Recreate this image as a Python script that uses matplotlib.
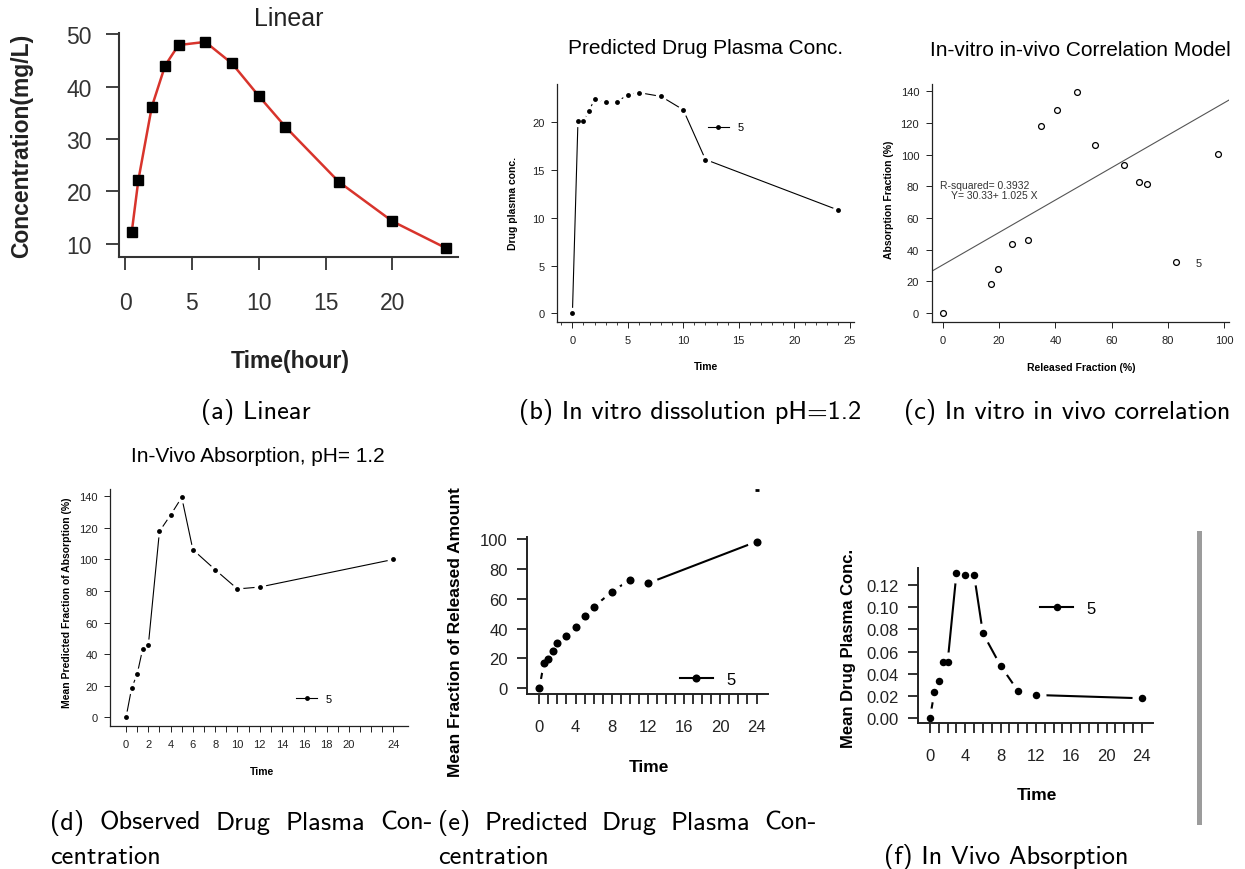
import numpy as np
import matplotlib
matplotlib.use('Agg')
import matplotlib.pyplot as plt
from matplotlib.lines import Line2D
from matplotlib.patches import Rectangle
from matplotlib.ticker import FixedLocator, FuncFormatter, MultipleLocator

plt.rcParams['font.family'] = ['Liberation Sans', 'DejaVu Sans']

# ---- data ----
# (a) linear model
lin_time = [0.5, 1, 2, 3, 4, 6, 8, 10, 12, 16, 20, 24]
lin_conc = [12.2, 22.2, 36.1, 44.0, 47.9, 48.5, 44.4, 38.2, 32.3, 21.8, 14.3, 9.2]

# sampling times shared by (b), (d), (e), (f)
times = [0, 0.5, 1, 1.5, 2, 3, 4, 5, 6, 8, 10, 12, 24]

# (b) predicted drug plasma conc.
pred_plasma = [0, 20.1, 20.1, 21.2, 22.4, 22.1, 22.1, 22.9, 23.1, 22.7, 21.3, 16.1, 10.8]

# (c) in-vitro in-vivo correlation
corr_released = [0, 17.1, 19.5, 24.7, 30.4, 34.9, 40.5, 47.8, 53.9, 64.5, 69.8, 72.4, 82.9, 97.7]
corr_absorbed = [0, 18.5, 27.9, 43.7, 45.8, 117.9, 128.2, 139.3, 106.1, 93.5, 82.6, 81.5, 31.9, 100.2]
fit_intercept = 30.33
fit_slope = 1.025
r_squared = 0.3932

# (d) in-vivo absorption
absorption = [0, 18.4, 27.4, 43.5, 45.6, 117.8, 128.1, 139.3, 106.2, 93.5, 81.3, 82.5, 100.0]

# (e) released amount
released = [0, 16.9, 19.6, 24.8, 30.5, 35.2, 41.1, 48.4, 54.5, 64.5, 72.7, 70.3, 98.2]
stray_time, stray_val = [24], [133]

# (f) mean drug plasma conc.
mean_plasma = [0, 0.0230, 0.0333, 0.0505, 0.0505, 0.1309, 0.1294, 0.1294, 0.0765,
               0.0471, 0.0239, 0.0206, 0.0176]

W, H = 1245, 870
fig = plt.figure(figsize=(W / 100, H / 100), dpi=100)


def px_axes(x0, y0, x1, y1):
    ax = fig.add_axes([x0 / W, 1 - y1 / H, (x1 - x0) / W, (y1 - y0) / H])
    ax.patch.set_visible(False)
    return ax


def ftext(x, y, s, **kw):
    return fig.text(x / W, 1 - y / H, s, **kw)


def r_style(ax, lw, tlen, tw, size, pad, color='#222222'):
    for s in ['top', 'right']:
        ax.spines[s].set_visible(False)
    for s in ['left', 'bottom']:
        ax.spines[s].set_linewidth(lw)
        ax.spines[s].set_color(color)
        ax.spines[s].set_zorder(5)
    ax.tick_params(direction='out', length=tlen, width=tw, colors=color,
                   labelsize=size, pad=pad)


def type_b(ax, x, y, dot, halo, lw):
    # R's type="b": points with the line broken around them
    ax.plot(x, y, color='k', lw=lw, zorder=2)
    ax.plot(x, y, 'o', ms=halo, color='white', mew=0, zorder=2.2)
    ax.plot(x, y, 'o', ms=dot, color='k', mew=0, zorder=3)
    return Line2D([], [], color='k', lw=lw, marker='o', ms=dot, mfc='k', mec='k', mew=0)


def legend5(ax, h, x, y, size, hl, tp):
    ax.legend([h], ['5'], loc='center left', bbox_to_anchor=(x, y),
              bbox_transform=ax.transData, frameon=False, borderpad=0,
              borderaxespad=0, handlelength=hl, handletextpad=tp,
              fontsize=size, numpoints=1)


# ---------------- (a) Linear ----------------
ax = px_axes(119, 34, 458, 258)
ax.plot(lin_time, lin_conc, color='#d8342c', lw=1.8, zorder=2)
ax.plot(lin_time, lin_conc, 's', color='k', ms=6.5, zorder=3)
ax.set_xlim(-0.45, 24.9)
ax.set_ylim(7.5, 50.2)
ax.set_xticks([0, 5, 10, 15, 20])
ax.set_yticks([10, 20, 30, 40, 50])
r_style(ax, 1.5, 9.5, 1.3, 16.5, 15, color='#333333')
ax.tick_params(axis='y', pad=10)
ftext(289, 19, 'Linear', fontsize=18, ha='center', va='center', color='#222222')
ftext(22, 146, 'Concentration(mg/L)', fontsize=16.5, fontweight='bold',
      rotation=90, ha='center', va='center', color='#222222')
ftext(290, 362, 'Time(hour)', fontsize=16.5, fontweight='bold',
      ha='center', va='center', color='#222222')

# ---------------- (b) Predicted drug plasma conc. ----------------
ax = px_axes(557, 85, 854, 323)
h = type_b(ax, times, pred_plasma, 3.5, 8.2, 0.8)
ax.set_xlim(-1.39, 25.4)
ax.set_ylim(-0.9, 24.0)
ax.set_xticks([0, 5, 10, 15, 20, 25])
ax.xaxis.set_minor_locator(MultipleLocator(1))
ax.set_yticks([0, 5, 10, 15, 20])
r_style(ax, 0.9, 4, 0.7, 8, 5)
ax.tick_params(axis='x', which='minor', length=2.2, width=0.6, colors='#222222')
legend5(ax, h, 12.2, 19.45, 8, 1.9, 0.8)
ftext(706, 49, 'Predicted Drug Plasma Conc.', fontsize=15, ha='center', va='center')
ftext(513, 203, 'Drug plasma conc.', fontsize=7.5, fontweight='bold',
      rotation=90, ha='center', va='center')
ftext(706, 367, 'Time', fontsize=7.5, fontweight='bold', ha='center', va='center')

# ---------------- (c) Correlation ----------------
ax = px_axes(931.7, 85, 1229, 323)
ax.plot(corr_released, corr_absorbed, 'o', ms=4.2, mfc='none', mec='k', mew=0.9)
ax.axline((0, fit_intercept), slope=fit_slope, color='#555555', lw=0.8)
ax.set_xlim(-3.9, 101.6)
ax.set_ylim(-5.7, 144.6)
ax.set_xticks([0, 20, 40, 60, 80, 100])
ax.set_yticks([0, 20, 40, 60, 80, 100, 120, 140])
r_style(ax, 0.9, 4, 0.7, 8, 5)
ax.text(-0.96, 80.9, f'R-squared= {r_squared}', fontsize=7.5, ha='left', va='center',
        color='#333333')
ax.text(2.84, 74.8, f'Y= {fit_intercept}+ {fit_slope} X', fontsize=7.5, ha='left',
        va='center', color='#333333')
ax.text(90.7, 31.7, '5', fontsize=8, ha='center', va='center', color='#222222')
ftext(1080, 50, 'In-vitro in-vivo Correlation Model', fontsize=15, ha='center',
      va='center')
ftext(889, 200, 'Absorption Fraction (%)', fontsize=7.5, fontweight='bold',
      rotation=90, ha='center', va='center')
ftext(1081, 368, 'Released Fraction (%)', fontsize=7.5, fontweight='bold',
      ha='center', va='center')

# ---------------- (d) In-vivo absorption ----------------
ax = px_axes(110, 490, 408.3, 727.3)
h = type_b(ax, times, absorption, 3.5, 8.6, 0.8)
ax.set_xlim(-1.44, 25.34)
ax.set_ylim(-5.7, 144.6)
ax.xaxis.set_major_locator(FixedLocator(range(25)))
d_labels = [0, 2, 4, 6, 8, 10, 12, 14, 16, 18, 20, 24]
ax.xaxis.set_major_formatter(FuncFormatter(lambda v, p: f'{int(v)}' if int(v) in d_labels else ''))
ax.set_yticks([0, 20, 40, 60, 80, 100, 120, 140])
r_style(ax, 0.9, 4, 0.7, 8, 5)
legend5(ax, h, 15.26, 11.8, 8, 1.9, 0.8)
ftext(258, 456, 'In-Vivo Absorption, pH= 1.2', fontsize=15, ha='center', va='center')
ftext(67, 603, 'Mean Predicted Fraction of Absorption (%)', fontsize=7.5,
      fontweight='bold', rotation=90, ha='center', va='center')
ftext(262, 772, 'Time', fontsize=7.5, fontweight='bold', ha='center', va='center')

# ---------------- (e) Released amount ----------------
ax = px_axes(527.3, 538, 768.3, 695)
h = type_b(ax, times, released, 5.8, 14, 1.5)
ax.plot(stray_time, stray_val, marker='_', ms=3, mew=2, color='k', clip_on=False)
ax.set_xlim(-1.33, 25.3)
ax.set_ylim(-3.8, 101.3)
ax.xaxis.set_major_locator(FixedLocator(range(25)))
ax.xaxis.set_major_formatter(FuncFormatter(lambda v, p: f'{int(v)}' if int(v) % 4 == 0 else ''))
ax.set_yticks([0, 20, 40, 60, 80, 100])
r_style(ax, 1.4, 7, 1.3, 12, 7)
ax.tick_params(axis='x', pad=11)
legend5(ax, h, 15.5, 6.2, 12, 2.0, 0.8)
ftext(455, 632, 'Mean Fraction of Released Amount', fontsize=12.5, fontweight='bold',
      rotation=90, ha='center', va='center')
ftext(649, 768, 'Time', fontsize=12.5, fontweight='bold', ha='center', va='center')

# ---------------- (f) Mean drug plasma conc. ----------------
ax = px_axes(917.7, 569, 1153.3, 724)
h = type_b(ax, times, mean_plasma, 5.4, 14.4, 1.5)
ax.set_xlim(-1.39, 25.3)
ax.set_ylim(-0.0048, 0.1357)
ax.xaxis.set_major_locator(FixedLocator(range(25)))
ax.xaxis.set_major_formatter(FuncFormatter(lambda v, p: f'{int(v)}' if int(v) % 4 == 0 else ''))
ax.set_yticks([0, 0.02, 0.04, 0.06, 0.08, 0.10, 0.12])
ax.yaxis.set_major_formatter(FuncFormatter(lambda v, p: f'{v:.2f}'))
r_style(ax, 1.4, 7, 1.3, 12, 7)
ax.tick_params(axis='x', pad=11)
legend5(ax, h, 12.45, 0.0992, 12, 2.0, 0.8)
ftext(848, 648, 'Mean Drug Plasma Conc.', fontsize=12, fontweight='bold',
      rotation=90, ha='center', va='center')
ftext(1037, 796, 'Time', fontsize=12.5, fontweight='bold', ha='center', va='center')

# gray rule at the right edge
fig.add_artist(Rectangle((1197 / W, 1 - 826 / H), 5 / W, 294 / H,
                         transform=fig.transFigure, color='#9c9c9c', lw=0))

# ---------------- captions ----------------
cap = dict(family='cmss10', fontsize=19, va='baseline', color='black')
ftext(256, 419, '(a) Linear', ha='center', **cap)
ftext(690, 419, '(b) In vitro dissolution pH=1.2', ha='center', **cap)
ftext(1067, 419, '(c) In vitro in vivo correlation', ha='center', **cap)

renderer = fig.canvas.get_renderer()


def justified(words, x0, x1, y):
    ts = [ftext(0, y, w, ha='left', **cap) for w in words]
    widths = [t.get_window_extent(renderer).width for t in ts]
    gap = (x1 - x0 - sum(widths)) / (len(words) - 1)
    x = x0
    for t, w in zip(ts, widths):
        t.set_x(x / W)
        x += w + gap


justified(['(d)', 'Observed', 'Drug', 'Plasma', 'Con-'], 50, 433, 830)
ftext(50, 864, 'centration', ha='left', **cap)
justified(['(e)', 'Predicted', 'Drug', 'Plasma', 'Con-'], 438, 817, 830)
ftext(438, 864, 'centration', ha='left', **cap)
ftext(1006, 864, '(f) In Vivo Absorption', ha='center', **cap)

fig.savefig('out.png', dpi=100)
